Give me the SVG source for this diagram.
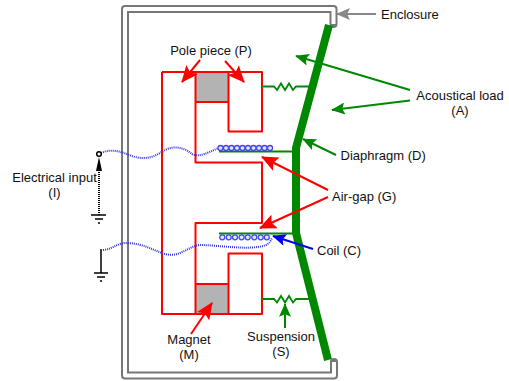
<svg xmlns="http://www.w3.org/2000/svg" width="509" height="381" viewBox="0 0 509 381">
<style>
text{font-family:"Liberation Sans",Arial,sans-serif;font-size:13px;fill:#111}
.m{text-anchor:middle}
.red{fill:none;stroke:#f00;stroke-width:2;stroke-linejoin:round}
.ar{stroke:#f00;stroke-width:2;fill:none}
.ag{stroke:#080;stroke-width:2;fill:none}
.wire{fill:none;stroke:#33d;stroke-width:2;stroke-dasharray:1 1}
.coil{fill:#e4e4ff;stroke:#44e;stroke-width:1.300}
.gnd{stroke:#000;fill:none}
</style>
<defs>
<marker id="r" viewBox="0 0 16 14" refX="15" refY="7" markerWidth="17" markerHeight="15" markerUnits="userSpaceOnUse" orient="auto"><path d="M0 0L16 7L0 14L3 7Z" fill="#f00"/></marker>
<marker id="g" viewBox="0 0 16 14" refX="15" refY="7" markerWidth="16" markerHeight="12" markerUnits="userSpaceOnUse" orient="auto"><path d="M0 0L16 7L0 14L3 7Z" fill="#080"/></marker>
<marker id="b" viewBox="0 0 16 14" refX="15" refY="7" markerWidth="16" markerHeight="12" markerUnits="userSpaceOnUse" orient="auto"><path d="M0 0L16 7L0 14L3 7Z" fill="#00e"/></marker>
<marker id="y" viewBox="0 0 16 14" refX="15" refY="7" markerWidth="16" markerHeight="12" markerUnits="userSpaceOnUse" orient="auto"><path d="M0 0L16 7L0 14L3 7Z" fill="#888"/></marker>
<circle id="c" r="2.500" class="coil"/>
</defs>

<g id="enclosure">
<path d="M333.500 24V9H125V375.500H334V362" fill="none" stroke="#777" stroke-width="8" stroke-linejoin="round" stroke-linecap="round"/>
<path d="M333.500 24V9H125V375.500H334V362" fill="none" stroke="#fff" stroke-width="4" stroke-linejoin="round"/>
</g>

<g id="magnet-assembly">
<rect x="195.500" y="72" width="33" height="30" fill="#b3b3b3"/>
<rect x="195.500" y="284" width="33" height="30" fill="#b3b3b3"/>
<path class="red" d="M162 72H262V131.500H228.500V72M195.500 72V162.500H262V223H195.500V314M228.500 102H195.500M162 72V314H262V253.500H228.500V314M228.500 284H195.500"/>
</g>

<g id="diaphragm">
<path d="M329 25L296 148V233L328 360" fill="none" stroke="#080" stroke-width="8" stroke-linejoin="round"/>
<path d="M219 151.500H296M219 233.500H296" stroke="#080" stroke-width="2" fill="none"/>
<path d="M262 86.500H274L277 90L281 83.500L285 90L289 83.500L293 90L296 86.500H310M262 299H274L277 302.500L281 296L285 302.500L289 296L293 302.500L296 299H310" stroke="#080" stroke-width="1.800" fill="none"/>
</g>

<g id="coil">
<path class="wire" d="M101 153C112 148 122 152 132 156C146 161 156 156 165 150C175 145 185 148 192 154C200 158 208 152 219 148"/>
<path class="wire" d="M103 250C114 249 118 242 128 243C145 244 152 250 165 254C180 258 188 246 200 245C220 245 250 251 266 245C270 243 271 240 272 238"/>
<g id="coil-upper">
<use href="#c" x="220.500" y="148"/><use href="#c" x="226" y="148"/><use href="#c" x="231.500" y="148"/><use href="#c" x="237" y="148"/><use href="#c" x="242.500" y="148"/><use href="#c" x="248" y="148"/><use href="#c" x="253.500" y="148"/><use href="#c" x="259" y="148"/><use href="#c" x="264.500" y="148"/><use href="#c" x="270" y="148"/>
</g>
<g id="coil-lower">
<use href="#c" x="222.300" y="237.300"/><use href="#c" x="228.700" y="237.300"/><use href="#c" x="235" y="237.300"/><use href="#c" x="241.600" y="237.300"/><use href="#c" x="247.700" y="237.300"/><use href="#c" x="254.300" y="237.300"/><use href="#c" x="260.700" y="237.300"/><use href="#c" x="266.800" y="237.300"/>
</g>
</g>

<g id="electrical-input">
<circle cx="99" cy="154" r="2.300" fill="#fff" stroke="#000" stroke-width="1.500"/>
<path d="M99 215V172" stroke="#000" stroke-width="2" stroke-dasharray="1 1" fill="none"/>
<path d="M99 157L102 171H96Z" fill="#000"/>
<path class="gnd" stroke-width="1.500" d="M91 215H106M95 219H103M98 223H100"/>
<path class="gnd" stroke-width="1.500" d="M101 249V273M94 273H108M97 277H105M100 281H102"/>
<text class="m" x="54.500" y="182">Electrical input</text>
<text class="m" x="54.500" y="197">(I)</text>
</g>

<g id="connectors">
<path d="M376 14H337" stroke="#888" stroke-width="2" fill="none" marker-end="url(#y)"/>
<path class="ar" d="M200 60L182 82" marker-end="url(#r)"/>
<path class="ar" d="M225 61L244 82" marker-end="url(#r)"/>
<path class="ag" d="M410 90L296 56" marker-end="url(#g)"/>
<path class="ag" d="M410 100.500L332 110" marker-end="url(#g)"/>
<path class="ag" d="M336 155L303 139" marker-end="url(#g)"/>
<path class="ar" d="M328 190L262 157" marker-end="url(#r)"/>
<path class="ar" d="M328 197L260 228" marker-end="url(#r)"/>
<path d="M313 249L273 236" stroke="#00e" stroke-width="2" fill="none" marker-end="url(#b)"/>
<path class="ag" d="M285 328V304" marker-end="url(#g)"/>
<path class="ar" d="M191 334L212 303" marker-end="url(#r)"/>
</g>

<g id="labels">
<text x="381" y="19">Enclosure</text>
<text class="m" x="211" y="54.500">Pole piece (P)</text>
<text class="m" x="460" y="100">Acoustical load</text>
<text class="m" x="460" y="114.500">(A)</text>
<text x="340.500" y="160">Diaphragm (D)</text>
<text x="332" y="201">Air-gap (G)</text>
<text x="317" y="255">Coil (C)</text>
<text class="m" x="281" y="341">Suspension</text>
<text class="m" x="281" y="356">(S)</text>
<text class="m" x="189" y="344">Magnet</text>
<text class="m" x="189" y="359">(M)</text>
</g>
</svg>
